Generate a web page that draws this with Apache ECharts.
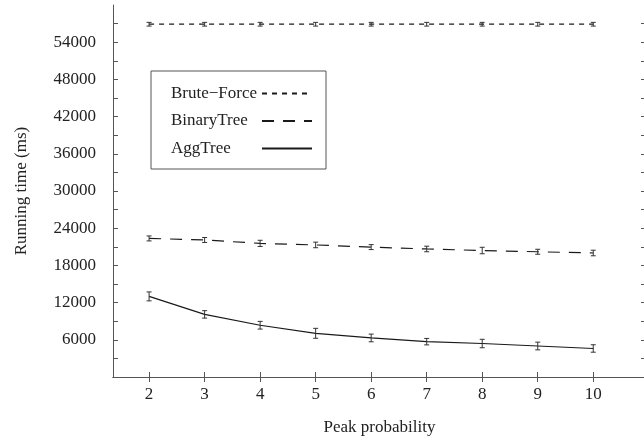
<!DOCTYPE html>
<html>
<head>
<meta charset="utf-8">
<script src="https://cdn.jsdelivr.net/npm/echarts@6/dist/echarts.min.js"></script>
<style>html,body{margin:0;padding:0;background:#fff;}#c{width:644px;height:440px;}</style>
</head>
<body>
<div id="c"></div>
<script>
const xValues = [2, 3, 4, 5, 6, 7, 8, 9, 10];
const seriesNames = ['Brute\u2212Force', 'BinaryTree', 'AggTree'];
const bruteForce = [56900, 56900, 56900, 56900, 56900, 56900, 56900, 56900, 56900];
const bruteForceErr = [300, 300, 300, 300, 300, 300, 300, 300, 300];
const binaryTree = [22350, 22100, 21550, 21300, 20950, 20650, 20400, 20200, 20000];
const binaryTreeErr = [400, 400, 500, 450, 400, 450, 520, 400, 450];
const aggTree = [13000, 10100, 8350, 7050, 6300, 5700, 5400, 5000, 4600];
const aggTreeErr = [720, 600, 620, 800, 620, 520, 680, 620, 600];
const xTicks = [2, 3, 4, 5, 6, 7, 8, 9, 10];
const yLabelValues = [6000, 12000, 18000, 24000, 30000, 36000, 42000, 48000, 54000];
const yTickValues = [3000, 6000, 9000, 12000, 15000, 18000, 21000, 24000, 27000, 30000, 33000, 36000, 39000, 42000, 45000, 48000, 51000, 54000, 57000];

const FONT = 'Liberation Serif';
const TXT = '#222';
const AX = '#555';
const LINE = '#1a1a1a';

function pairs(vals) { return xValues.map((x, i) => [x, vals[i]]); }
function errData(vals, errs) { return xValues.map((x, i) => [x, vals[i] - errs[i], vals[i] + errs[i]]); }

function errSeries(vals, errs) {
  return {
    type: 'custom',
    silent: true,
    z: 3,
    data: errData(vals, errs),
    renderItem: function (params, api) {
      const x = api.value(0);
      const lo = api.coord([x, api.value(1)]);
      const hi = api.coord([x, api.value(2)]);
      const w = 2.5;
      const st = { stroke: '#333', lineWidth: 1 };
      return {
        type: 'group',
        children: [
          { type: 'line', shape: { x1: lo[0], y1: lo[1], x2: hi[0], y2: hi[1] }, style: st },
          { type: 'line', shape: { x1: lo[0] - w, y1: lo[1], x2: lo[0] + w, y2: lo[1] }, style: st },
          { type: 'line', shape: { x1: hi[0] - w, y1: hi[1], x2: hi[0] + w, y2: hi[1] }, style: st }
        ]
      };
    }
  };
}

function lineSeries(name, vals, dash) {
  return {
    name: name,
    type: 'line',
    data: pairs(vals),
    symbol: 'none',
    silent: true,
    z: 2,
    lineStyle: { color: LINE, width: 1.2, type: dash },
    itemStyle: { color: LINE }
  };
}

const xCommon = {
  type: 'value', min: 1.35, max: 10.95,
  axisLine: { show: true, lineStyle: { color: AX, width: 1 } },
  axisTick: { show: true, inside: true, length: 5, customValues: xTicks, lineStyle: { color: AX } },
  splitLine: { show: false }
};
const yCommon = {
  type: 'value', min: 0, max: 60000,
  axisLine: { show: true, lineStyle: { color: AX, width: 1 } },
  axisTick: { show: true, inside: true, length: 5, customValues: yTickValues, lineStyle: { color: AX } },
  splitLine: { show: false }
};

const chart = echarts.init(document.getElementById('c'), null, { renderer: 'canvas' });
chart.setOption({
  animation: false,
  backgroundColor: '#fff',
  textStyle: { fontFamily: FONT },
  grid: { left: 113, top: 5, right: -2, bottom: 63, containLabel: false, outerBoundsMode: 'none' },
  xAxis: [
    Object.assign({}, xCommon, {
      position: 'bottom',
      name: 'Peak probability', nameLocation: 'middle', nameGap: 42,
      nameTextStyle: { fontFamily: FONT, fontSize: 17, color: TXT },
      axisLabel: { show: true, customValues: xTicks, margin: 9, fontFamily: FONT, fontSize: 17, color: TXT,
        formatter: function (v) { return String(v); } }
    }),
    Object.assign({}, xCommon, { position: 'top', axisLabel: { show: false } })
  ],
  yAxis: [
    Object.assign({}, yCommon, {
      position: 'left',
      name: 'Running time (ms)', nameLocation: 'middle', nameGap: 83,
      nameTextStyle: { fontFamily: FONT, fontSize: 17, color: TXT },
      axisLabel: { show: true, customValues: yLabelValues, margin: 17, fontFamily: FONT, fontSize: 17, color: TXT,
        formatter: function (v) { return String(v); } }
    }),
    Object.assign({}, yCommon, { position: 'right', axisLabel: { show: false } })
  ],
  legend: {
    data: seriesNames,
    orient: 'vertical',
    align: 'right',
    left: 151, top: 71,
    padding: [14, 13, 12, 20],
    itemGap: 10.5,
    itemWidth: 50, itemHeight: 14,
    borderColor: AX, borderWidth: 1,
    itemStyle: { opacity: 0, borderWidth: 0 },
    formatter: function (n) { return '{t|' + n + '}'; },
    textStyle: {
      fontFamily: FONT, fontSize: 17, color: TXT,
      rich: { t: { width: 86, align: 'left', fontFamily: FONT, fontSize: 17, color: TXT } }
    }
  },
  series: [
    lineSeries(seriesNames[0], bruteForce, [5, 5]),
    lineSeries(seriesNames[1], binaryTree, [12, 9]),
    lineSeries(seriesNames[2], aggTree, 'solid'),
    errSeries(bruteForce, bruteForceErr),
    errSeries(binaryTree, binaryTreeErr),
    errSeries(aggTree, aggTreeErr)
  ]
});
</script>
</body>
</html>
